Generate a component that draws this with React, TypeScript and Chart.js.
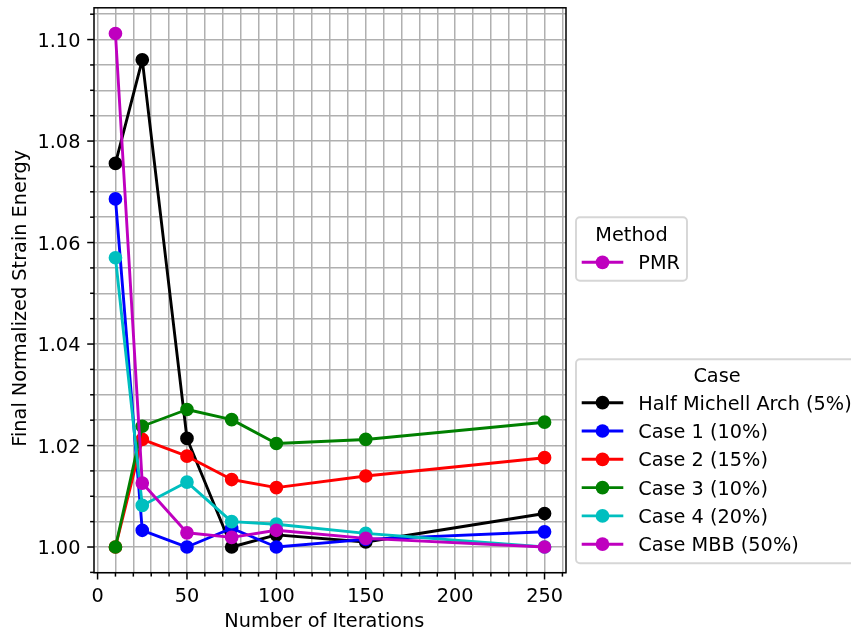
import React, { useEffect, useRef } from 'react';
import { Chart, registerables } from 'chart.js';

Chart.register(...registerables);

// ---------------- data ----------------
const iterations = [10, 25, 50, 75, 100, 150, 250];

const halfMichell = [1.0756, 1.096, 1.0214, 1.0, 1.0024, 1.001, 1.0066];
const case1 = [1.0686, 1.0033, 1.0, 1.0037, 1.0, 1.0015, 1.003];
const case2 = [1.0, 1.0212, 1.0179, 1.0133, 1.0117, 1.014, 1.0176];
const case3 = [1.0, 1.0238, 1.0271, 1.0251, 1.0204, 1.0212, 1.0246];
const case4 = [1.057, 1.0082, 1.0128, 1.005, 1.0045, 1.0027, 1.0];
const caseMBB = [1.1012, 1.0126, 1.0028, 1.0019, 1.0033, 1.0017, 1.0];

const seriesNames = [
  'Half Michell Arch (5%)',
  'Case 1 (10%)',
  'Case 2 (15%)',
  'Case 3 (10%)',
  'Case 4 (20%)',
  'Case MBB (50%)',
];
const seriesValues = [halfMichell, case1, case2, case3, case4, caseMBB];
const seriesColors = ['#000000', '#0000ff', '#ff0000', '#008000', '#00bfbf', '#bf00bf'];

const methodNames = ['PMR'];
const methodColors = ['#bf00bf'];

const xMajorTicks = [0, 50, 100, 150, 200, 250];
const yMajorTicks = [1.0, 1.02, 1.04, 1.06, 1.08, 1.1];
const xMinorStep = 10;
const yMinorStep = 0.005;

const xTitle = 'Number of Iterations';
const yTitle = 'Final Normalized Strain Energy';
const caseLegendTitle = 'Case';
const methodLegendTitle = 'Method';

// ---------------- styles ----------------
const FONT = '19.3px "DejaVu Sans"';
const LINE_W = 2.9;
const MARKER_R = 5.9;
const MARKER_BORDER = 1.9;
const MAJOR_LEN = 6.8;
const MINOR_LEN = 3.9;
const SPINE_W = 1.5;

function isMajor(list: number[], v: number) {
  return list.some((m) => Math.abs(m - v) < 1e-9);
}

function roundRect(ctx: CanvasRenderingContext2D, x: number, y: number, w: number, h: number, r: number) {
  ctx.beginPath();
  ctx.moveTo(x + r, y);
  ctx.lineTo(x + w - r, y);
  ctx.arcTo(x + w, y, x + w, y + r, r);
  ctx.lineTo(x + w, y + h - r);
  ctx.arcTo(x + w, y + h, x + w - r, y + h, r);
  ctx.lineTo(x + r, y + h);
  ctx.arcTo(x, y + h, x, y + h - r, r);
  ctx.lineTo(x, y + r);
  ctx.arcTo(x, y, x + r, y, r);
  ctx.closePath();
}

function drawLegend(
  ctx: CanvasRenderingContext2D,
  box: { x: number; y: number; w: number; h: number },
  title: string,
  titleBaseline: number,
  names: string[],
  colors: string[],
  firstY: number,
  stepY: number
) {
  roundRect(ctx, box.x, box.y, box.w, box.h, 4);
  ctx.fillStyle = 'rgba(255,255,255,0.8)';
  ctx.fill();
  ctx.strokeStyle = 'rgba(204,204,204,0.8)';
  ctx.lineWidth = 1.9;
  ctx.stroke();

  ctx.font = FONT;
  ctx.fillStyle = '#000';
  ctx.textAlign = 'center';
  ctx.textBaseline = 'alphabetic';
  ctx.fillText(title, box.x + box.w / 2, titleBaseline);

  names.forEach((name, i) => {
    const cy = firstY + i * stepY;
    const col = colors[i];
    ctx.strokeStyle = col;
    ctx.lineWidth = LINE_W;
    ctx.lineCap = 'butt';
    ctx.beginPath();
    ctx.moveTo(box.x + 5.7, cy);
    ctx.lineTo(box.x + 47.3, cy);
    ctx.stroke();
    ctx.beginPath();
    ctx.arc(box.x + 26.5, cy, MARKER_R + MARKER_BORDER / 2, 0, Math.PI * 2);
    ctx.fillStyle = col;
    ctx.fill();
    ctx.fillStyle = '#000';
    ctx.textAlign = 'left';
    ctx.fillText(name, box.x + 62.3, cy + 7);
  });
}

const decorPlugin = {
  id: 'decor',
  afterDraw(chart: any) {
    const { ctx, chartArea: a, scales } = chart;
    const xs = scales.x;
    const ys = scales.y;
    ctx.save();

    // spines
    ctx.strokeStyle = '#000';
    ctx.lineWidth = SPINE_W;
    ctx.strokeRect(a.left, a.top, a.right - a.left, a.bottom - a.top);

    ctx.font = FONT;
    ctx.fillStyle = '#000';

    // x ticks
    ctx.textAlign = 'center';
    ctx.textBaseline = 'alphabetic';
    xs.ticks.forEach((t: any) => {
      const px = xs.getPixelForValue(t.value);
      const major = isMajor(xMajorTicks, t.value);
      ctx.beginPath();
      ctx.moveTo(px, a.bottom);
      ctx.lineTo(px, a.bottom + (major ? MAJOR_LEN : MINOR_LEN));
      ctx.stroke();
      if (major) ctx.fillText(String(Math.round(t.value)), px, a.bottom + 29.3);
    });

    // y ticks
    ctx.textAlign = 'right';
    ys.ticks.forEach((t: any) => {
      const py = ys.getPixelForValue(t.value);
      const major = isMajor(yMajorTicks, t.value);
      ctx.beginPath();
      ctx.moveTo(a.left, py);
      ctx.lineTo(a.left - (major ? MAJOR_LEN : MINOR_LEN), py);
      ctx.stroke();
      if (major) ctx.fillText(t.value.toFixed(2), a.left - 13.6, py + 7.2);
    });

    // axis titles
    ctx.textAlign = 'center';
    ctx.fillText(xTitle, 324.3, 627.3);
    ctx.save();
    ctx.translate(26.3, 298.3);
    ctx.rotate(-Math.PI / 2);
    ctx.fillText(yTitle, 0, 0);
    ctx.restore();

    // legends
    drawLegend(ctx, { x: 576, y: 217.3, w: 111, h: 63.4 }, methodLegendTitle, 240.7, methodNames, methodColors, 262.3, 28.3);
    drawLegend(ctx, { x: 576, y: 359.3, w: 282, h: 204 }, caseLegendTitle, 382.3, seriesNames, seriesColors, 402.7, 28.3);

    ctx.restore();
  },
};

export default function App() {
  const ref = useRef<HTMLCanvasElement | null>(null);

  useEffect(() => {
    if (!ref.current) return;
    const n = seriesNames.length;
    const chart = new Chart(ref.current, {
      type: 'line',
      data: {
        datasets: seriesNames.map((name, i) => ({
          label: name,
          data: iterations.map((it, j) => ({ x: it, y: seriesValues[i][j] })),
          borderColor: seriesColors[i],
          backgroundColor: seriesColors[i],
          pointBackgroundColor: seriesColors[i],
          pointBorderColor: seriesColors[i],
          pointBorderWidth: MARKER_BORDER,
          pointRadius: MARKER_R,
          borderWidth: LINE_W,
          borderJoinStyle: 'round',
          tension: 0,
          fill: false,
          order: n - i,
        })),
      },
      options: {
        animation: false,
        responsive: false,
        devicePixelRatio: 1,
        events: [],
        layout: { padding: { left: 0, top: 6.7, right: 285, bottom: 0 } },
        plugins: { legend: { display: false }, tooltip: { enabled: false } },
        scales: {
          x: {
            type: 'linear',
            min: -2,
            max: 262,
            afterBuildTicks: (scale: any) => {
              const t = [];
              for (let k = 0; k * xMinorStep <= 262; k++) t.push({ value: k * xMinorStep });
              scale.ticks = t;
            },
            afterFit: (scale: any) => {
              scale.height = 634 - 572.7;
            },
            ticks: { display: false, autoSkip: false },
            grid: { color: '#b0b0b0', lineWidth: 1.5, drawTicks: false },
            border: { display: false },
          },
          y: {
            type: 'linear',
            min: 0.99494,
            max: 1.10626,
            afterBuildTicks: (scale: any) => {
              const t = [];
              for (let k = 199; k <= 221; k++) t.push({ value: Math.round(k * yMinorStep * 1000) / 1000 });
              scale.ticks = t;
            },
            afterFit: (scale: any) => {
              scale.width = 94;
            },
            ticks: { display: false, autoSkip: false },
            grid: { color: '#b0b0b0', lineWidth: 1.5, drawTicks: false },
            border: { display: false },
          },
        },
      },
      plugins: [decorPlugin],
    });
    return () => chart.destroy();
  }, []);

  return (
    <div style={{ position: 'absolute', left: 0, top: 0, width: 851, height: 634, background: '#fff' }}>
      <canvas ref={ref} width={851} height={634} style={{ display: 'block' }} />
    </div>
  );
}
